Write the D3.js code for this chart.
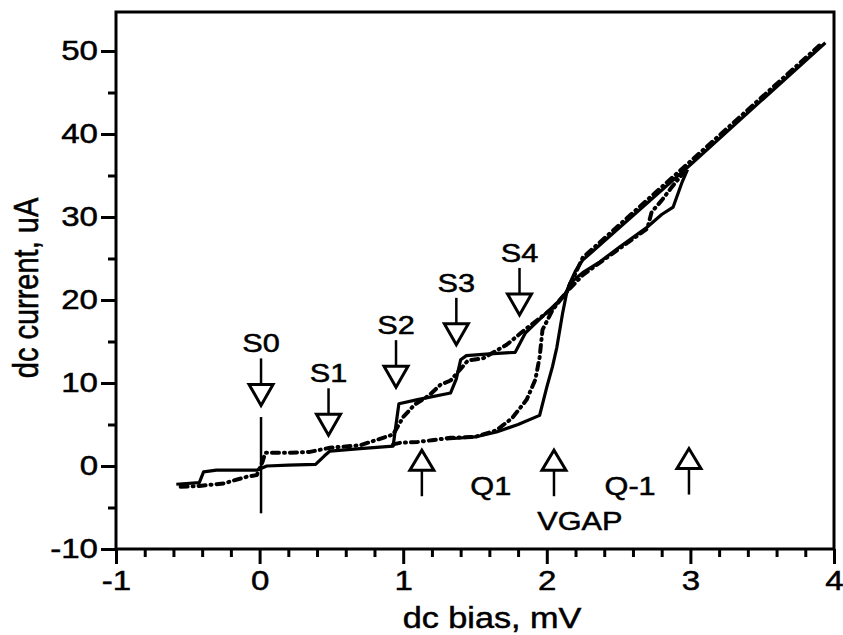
<!DOCTYPE html>
<html><head><meta charset="utf-8">
<script src="https://cdnjs.cloudflare.com/ajax/libs/d3/7.8.5/d3.min.js"></script>
<style>
body{margin:0;background:#fff;}
text{font-family:"Liberation Sans",Arial,Helvetica,sans-serif;fill:#000;stroke:#000;stroke-width:0.5px;}
</style></head>
<body><svg id="chart" width="843" height="635"></svg>
<script>
// ---- data ----
const xMajorTicks = [-1, 0, 1, 2, 3, 4];
const yMajorTicks = [-10, 0, 10, 20, 30, 40, 50];

// solid trace, upper branch (S steps)
const solidUpperX = [-0.58, -0.42, -0.39, -0.30, -0.02, 0.05, 0.20, 0.39, 0.45, 0.49, 0.70, 0.93, 0.95, 0.97, 1.10, 1.33, 1.37, 1.40, 1.44, 1.60, 1.78, 1.85, 2.00, 2.13, 2.16, 2.20, 2.25, 3.00, 3.94];
const solidUpperY = [-2.2, -2.0, -0.7, -0.5, -0.5, 0.0, 0.1, 0.2, 1.2, 1.8, 2.1, 2.4, 5.0, 7.5, 8.0, 8.8, 10.5, 12.8, 13.3, 13.5, 13.7, 16.0, 18.5, 20.6, 22.0, 23.5, 24.8, 36.3, 51.0];
// solid trace, lower branch (gap rise)
const solidLowerX = [1.30, 1.50, 1.65, 1.80, 1.95, 2.00, 2.04, 2.07, 2.11, 2.14, 2.16, 2.25, 2.37, 2.50, 2.70, 2.80, 2.88, 2.94, 2.98];
const solidLowerY = [3.25, 3.5, 4.1, 5.0, 6.1, 9.5, 12.0, 14.3, 18.4, 21.0, 22.0, 23.3, 24.6, 26.3, 28.8, 30.3, 31.2, 34.1, 35.7];
// dotted trace, upper branch
const dottedUpperX = [-0.55, -0.42, -0.25, -0.09, -0.02, 0.02, 0.04, 0.20, 0.35, 0.49, 0.70, 0.86, 0.93, 1.00, 1.08, 1.18, 1.26, 1.33, 1.40, 1.45, 1.56, 1.72, 1.86, 2.04, 2.14, 2.25, 3.00, 3.92];
const dottedUpperY = [-2.5, -2.4, -2.1, -1.3, -1.1, 0.5, 1.6, 1.6, 1.7, 2.2, 2.5, 3.4, 3.8, 5.9, 7.4, 8.5, 9.8, 10.3, 11.7, 12.7, 13.0, 14.6, 16.6, 19.0, 21.0, 25.1, 36.7, 51.0];
// dotted trace, lower branch
const dottedLowerX = [0.93, 0.98, 1.10, 1.20, 1.33, 1.50, 1.65, 1.76, 1.86, 1.92, 1.95, 1.97, 2.04, 2.14, 2.25, 2.45, 2.70, 2.73, 2.80, 2.87, 2.95];
const dottedLowerY = [2.6, 2.8, 2.9, 3.1, 3.4, 3.5, 4.3, 5.8, 8.0, 10.4, 13.1, 16.4, 18.8, 21.0, 23.0, 25.5, 28.6, 30.6, 32.0, 33.6, 35.3];

// down-pointing markers (label, x, apex current)
const downLabels = ["S0", "S1", "S2", "S3", "S4"];
const downX = [0.01, 0.48, 0.95, 1.37, 1.81];
const downApexY = [7.3, 3.7, 9.5, 14.6, 18.2];
// up-pointing markers
const upX = [1.13, 2.05, 2.99];
const upApexY = [1.9, 1.9, 2.1];
// free text labels
const textLabels = ["Q1", "Q-1", "VGAP"];
const textX = [1.61, 2.58, 2.23];
const textY = [-3.5, -3.5, -7.7];
// vertical bias marker at 0 mV
const markerX = 0.01, markerY0 = -5.7, markerY1 = 5.9;

// ---- drawing ----
const svg = d3.select("#chart");
const x = d3.scaleLinear().domain([-1, 4]).range([116, 834]);
const y = d3.scaleLinear().domain([-10, 50]).range([549, 51]);
const yTop = 12;
const SX = 1.18;      // horizontal stretch of the scanned lettering
const FS = 28;

function stretchText(sel) {
  sel.each(function () {
    const t = d3.select(this);
    const tx = +t.attr("x") || 0, ty = +t.attr("y") || 0;
    t.attr("x", 0).attr("y", 0).attr("transform", `translate(${tx},${ty}) scale(${SX},1)`);
  });
}

// axes
const fmt = d => String(d);
const gx = svg.append("g").attr("transform", "translate(0,549)");
gx.call(d3.axisBottom(x).tickValues(d3.range(-1, 4.001, 0.2).map(v => +v.toFixed(1)).filter(v => !xMajorTicks.includes(v))).tickSize(8).tickFormat(""));
gx.select(".domain").remove();
const gx2 = svg.append("g").attr("transform", "translate(0,549)");
gx2.call(d3.axisBottom(x).tickValues(xMajorTicks).tickSize(15).tickPadding(5).tickFormat(fmt));
gx2.select(".domain").remove();

const gy = svg.append("g").attr("transform", "translate(116,0)");
gy.call(d3.axisLeft(y).tickValues(d3.range(-5, 50, 10)).tickSize(8).tickFormat(""));
gy.select(".domain").remove();
const gy2 = svg.append("g").attr("transform", "translate(116,0)");
gy2.call(d3.axisLeft(y).tickValues(yMajorTicks).tickSize(15).tickPadding(3).tickFormat(fmt));
gy2.select(".domain").remove();

svg.selectAll(".tick line").attr("stroke", "#000").attr("stroke-width", 3);
svg.selectAll(".tick text").style("font-size", FS + "px").attr("fill", "#000");
gx2.selectAll(".tick text").attr("dy", "0.75em").each(function () {
  const t = d3.select(this);
  t.attr("transform", `translate(0,${+t.attr("y")}) scale(${SX},1)`).attr("y", 0);
});
gy2.selectAll(".tick text").each(function () {
  const t = d3.select(this);
  t.attr("transform", `translate(${+t.attr("x")},0) scale(${SX},1)`).attr("x", 0);
});

// frame
svg.append("rect").attr("x", x(-1)).attr("y", yTop).attr("width", x(4) - x(-1)).attr("height", y(-10) - yTop)
  .attr("fill", "none").attr("stroke", "#000").attr("stroke-width", 3);

// axis titles
svg.append("text").attr("x", 492).attr("y", 628).attr("text-anchor", "middle").style("font-size", "29px").text("dc bias, mV").call(stretchText);
svg.append("text").attr("transform", `translate(38,288) scale(${SX},1) rotate(-90)`).attr("text-anchor", "middle").style("font-size", "29px").text("dc current, uA");

// curves
const line = d3.line().x(d => x(d[0])).y(d => y(d[1]));
const zip = (a, b) => a.map((v, i) => [v, b[i]]);
const plot = svg.append("g");
[[dottedUpperX, dottedUpperY], [dottedLowerX, dottedLowerY]].forEach(([a, b]) => {
  plot.append("path").attr("d", line(zip(a, b))).attr("fill", "none").attr("stroke", "#000")
    .attr("stroke-width", 4).attr("stroke-dasharray", "7,5,1,5").attr("stroke-linecap", "round").attr("stroke-linejoin", "round");
});
[[solidUpperX, solidUpperY], [solidLowerX, solidLowerY]].forEach(([a, b]) => {
  plot.append("path").attr("d", line(zip(a, b))).attr("fill", "none").attr("stroke", "#000")
    .attr("stroke-width", 3.2).attr("stroke-linejoin", "round");
});

// vertical marker
svg.append("line").attr("x1", x(markerX)).attr("x2", x(markerX)).attr("y1", y(markerY0)).attr("y2", y(markerY1))
  .attr("stroke", "#000").attr("stroke-width", 2.5);

// down arrows
downLabels.forEach((lab, i) => {
  const cx = x(downX[i]), ay = y(downApexY[i]);
  const g = svg.append("g");
  g.append("line").attr("x1", cx).attr("x2", cx).attr("y1", ay - 47).attr("y2", ay - 21).attr("stroke", "#000").attr("stroke-width", 2.5);
  g.append("path").attr("d", `M${cx - 12},${ay - 21}L${cx + 12},${ay - 21}L${cx},${ay}Z`).attr("fill", "#fff").attr("stroke", "#000").attr("stroke-width", 3);
  g.append("text").attr("x", cx).attr("y", ay - 53).attr("text-anchor", "middle").style("font-size", "26px").text(lab).call(stretchText);
});
// up arrows
upX.forEach((v, i) => {
  const cx = x(v), ay = y(upApexY[i]);
  const g = svg.append("g");
  g.append("line").attr("x1", cx).attr("x2", cx).attr("y1", ay + 20).attr("y2", ay + 46).attr("stroke", "#000").attr("stroke-width", 2.5);
  g.append("path").attr("d", `M${cx - 12},${ay + 20}L${cx + 12},${ay + 20}L${cx},${ay}Z`).attr("fill", "#fff").attr("stroke", "#000").attr("stroke-width", 3);
});
textLabels.forEach((t, i) => {
  svg.append("text").attr("x", x(textX[i])).attr("y", y(textY[i])).attr("text-anchor", "middle").style("font-size", "26px").text(t).call(stretchText);
});
</script></body></html>
